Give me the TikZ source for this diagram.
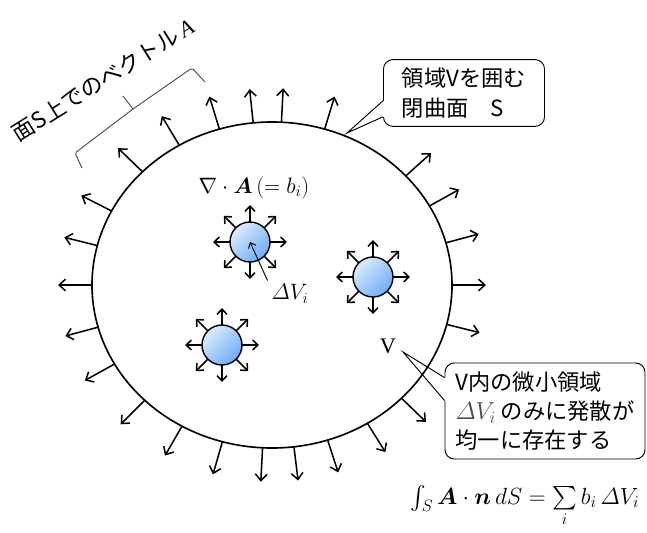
\RequirePackage{fix-cm}
\documentclass[tikz,border=0pt]{standalone}
\usepackage{amsmath, amssymb, bm}
\usepackage{fontspec}
\newfontfamily\jpfont{Noto Sans CJK JP}
\newfontfamily\timesfont{Liberation Serif}
\usepackage{tikz}
\usetikzlibrary{arrows.meta, calc}
\definecolor{balllight}{RGB}{220,236,253}
\definecolor{balldark}{RGB}{110,172,246}

\begin{document}
\begin{tikzpicture}[
    x=0.03cm, y=-0.03cm,
    arr/.style={-{Straight Barb[length=5.5pt,width=10pt]}, line width=1.3pt},
    smallarr/.style={-{Straight Barb[length=4.5pt,width=8.5pt]}, line width=1.3pt},
    thinarr/.style={-{Straight Barb[length=4pt,width=7pt]}, line width=0.8pt},
    ball/.style={circle, draw, line width=1.2pt, minimum size=1.2cm, inner sep=0pt,
      top color=balllight, bottom color=balldark, shading angle=45},
    callout/.style={draw, rounded corners=8pt, line width=0.8pt, fill=white,
      align=left, font=\jpfont\fontsize{19}{25}\selectfont},
    ptr/.style={line width=0.8pt},
    brace/.style={draw=black!70, line width=0.8pt, rounded corners=1.5pt}
  ]
  \useasboundingbox (0,0) rectangle (647,532);

  \coordinate (c) at (272,285);
  \draw[line width=1.4pt] (c) ellipse (180 and 163);
  \foreach \t in {180,-166,-153,-136,-121,-107,-96,-87,-73,-42,-29,-15,
                  0,14,44,58,72,83,93,106,120,135,151,165}
    \draw[arr] ($(c)+(\t:180 and 163)$) -- ++(\t:34);

  \coordinate (br1) at (82,168);
  \coordinate (br2) at (205,82);
  \coordinate (brm) at (133,109);
  \coordinate (brt) at (123,96);
  \draw[brace] (br1) -- (75,153) -- (brm) -- (192,68) -- (br2);
  \draw[brace] (brm) -- (brt);
  \node[rotate=32, font=\jpfont\fontsize{19}{20}\selectfont] (lab) at (103,80)
    {面S上でのベクトル\,{\timesfont\itshape A}};

  \node[ball] (s1) at (250,242) {};
  \node[ball] (s2) at (373,277) {};
  \node[ball] (s3) at (222,345) {};
  \foreach \s in {s1,s2,s3}
    \foreach \a in {0,45,...,315}
      \draw[smallarr] (\s.center) ++(\a:20) -- ++(\a:17);

  \node[font=\fontsize{19}{20}\selectfont] (div) at (254,188)
    {$\nabla\cdot\bm{A}\left(=b_i\right)$};
  \node[font=\fontsize{19}{20}\selectfont] (dv) at (290,294) {$\varDelta V_i$};
  \draw[thinarr] (dv.north west) -- (s1.center);

  \node[font=\timesfont\fontsize{19}{20}\selectfont] (vl) at (388,346) {V};

  \node[callout, minimum width=4.83cm, minimum height=2.0cm] (cs) at (464,93)
    {領域Vを囲む\\閉曲面　S};
  \coordinate (cstip) at (347,133);
  \coordinate (csa) at ($(cs.south west)+(0,-26)$);
  \coordinate (csb) at ($(cs.south west)+(0,-10)$);
  \draw[white, line width=2.5pt] (csa) -- (csb);
  \draw[ptr] (csa) -- (cstip) -- (csb);

  \node[callout, minimum width=6.0cm, minimum height=2.88cm] (cv) at (545,411)
    {V内の微小領域\\{\color{black!70}\fontsize{21}{25}\selectfont$\varDelta V_i$} のみに発散が\\均一に存在する};
  \coordinate (cvtip) at (403,352);
  \coordinate (cva) at ($(cv.north west)+(0,15)$);
  \coordinate (cvb) at ($(cv.north west)+(0,38)$);
  \draw[white, line width=2.5pt] (cva) -- (cvb);
  \draw[ptr] (cva) -- (cvtip) -- (cvb);

  \node[font=\fontsize{20}{22}\selectfont] (gauss) at (525,506)
    {$\int_S\bm{A}\cdot\bm{n}\,dS=\sum\limits_i b_i\,\varDelta V_i$};
\end{tikzpicture}
\end{document}
